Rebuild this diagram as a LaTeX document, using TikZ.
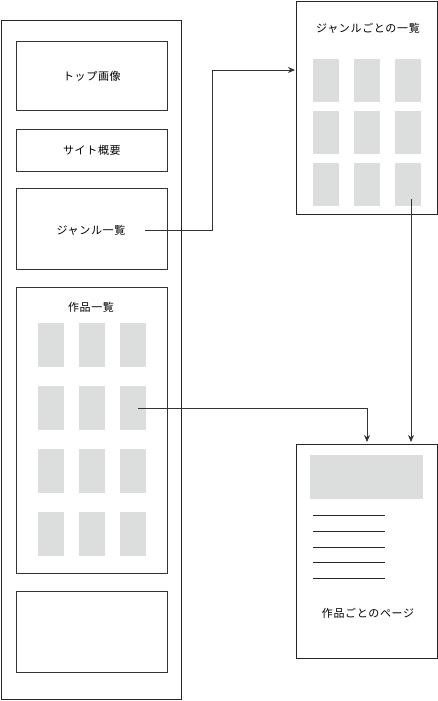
\documentclass[tikz,border=0pt]{standalone}
\usepackage{fontspec}
\newfontfamily\jp[LetterSpace=6]{Noto Sans CJK JP}
\usetikzlibrary{arrows.meta}
\definecolor{thumb}{RGB}{220,221,221}
\tikzset{
  frame/.style={draw=black!85, line width=0.9pt, fill=white},
  box/.style={draw=black!80, line width=0.8pt},
  thumbbox/.style={fill=thumb, draw=none},
  label/.style={font=\jp\fontsize{11}{12}\selectfont, inner sep=0pt},
  conn/.style={draw=black!80, line width=0.8pt, -{Stealth[length=7pt,width=6pt]}},
  textline/.style={draw=black!85, line width=0.9pt}
}
\begin{document}
\begin{tikzpicture}[x=1pt,y=-1pt]
\useasboundingbox (0,0) rectangle (438,701);
% left long page
\draw[frame] (1,20) rectangle (181,699);
\node[box, minimum width=151pt, minimum height=69pt, anchor=north west, inner sep=0pt] (top) at (16,41) {};
\node[label] (toptext) at (top.center) {トップ画像};
\node[box, minimum width=151pt, minimum height=42pt, anchor=north west, inner sep=0pt] (about) at (16,129) {};
\node[label] (abouttext) at (about.center) {サイト概要};
\node[box, minimum width=151pt, minimum height=81pt, anchor=north west, inner sep=0pt] (genre) at (16,188) {};
\node[label] (genretext) at (91,230) {ジャンル一覧};
\node[box, minimum width=151pt, minimum height=286pt, anchor=north west, inner sep=0pt] (works) at (16,287) {};
\node[label] (workstext) at (91,307) {作品一覧};
\foreach \r/\y in {1/323,2/386,3/449,4/512}{
  \foreach \c/\x in {1/38,2/79,3/120}{
    \node[thumbbox, minimum width=26pt, minimum height=44pt, anchor=north west, inner sep=0pt] (w\r\c) at (\x,\y) {};
  }
}
\node[box, minimum width=151pt, minimum height=81pt, anchor=north west, inner sep=0pt] (footer) at (16,591) {};
% genre page
\node[frame, minimum width=141pt, minimum height=213pt, anchor=north west, inner sep=0pt] (gpage) at (296,1) {};
\node[label] (gtitle) at (368,28) {ジャンルごとの一覧};
\foreach \r/\y in {1/59,2/111,3/163}{
  \foreach \c/\x in {1/313,2/354,3/395}{
    \node[thumbbox, minimum width=26pt, minimum height=43pt, anchor=north west, inner sep=0pt] (g\r\c) at (\x,\y) {};
  }
}
% work page
\node[frame, minimum width=141pt, minimum height=214pt, anchor=north west, inner sep=0pt] (wpage) at (296,444) {};
\node[thumbbox, minimum width=113pt, minimum height=44pt, anchor=north west, inner sep=0pt] (wimg) at (310,455) {};
\foreach \i/\y in {1/515,2/531,3/547,4/562,5/578}{
  \coordinate (la\i) at (313,\y);
  \coordinate (lb\i) at (385,\y);
  \draw[textline] (la\i) -- (lb\i);
}
\node[label] (wtitle) at (368,613) {作品ごとのページ};
% connectors
\coordinate (s1) at (145,230);
\coordinate (e1) at (295,70);
\draw[conn] (s1) -- (212,230) |- (e1);
\coordinate (s2) at (138,408);
\coordinate (e2) at (367,442);
\draw[conn] (s2) -| (e2);
\coordinate (s3) at (411,199);
\coordinate (e3) at (411,442);
\draw[conn] (s3) -- (e3);
\end{tikzpicture}
\end{document}
